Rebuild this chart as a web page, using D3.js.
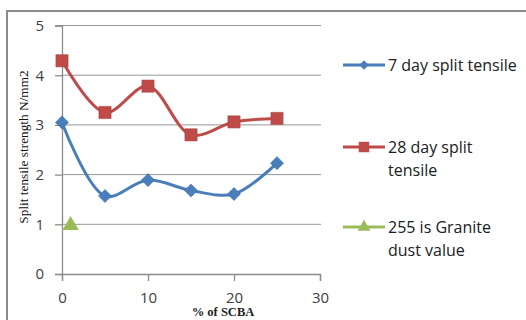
<!DOCTYPE html>
<html>
<head>
<meta charset="utf-8">
<script src="https://cdn.jsdelivr.net/npm/d3@7"></script>
<style>
  body { margin: 0; background: #fff; }
</style>
</head>
<body>
<div id="chart"></div>
<script>
var xValues = [0, 5, 10, 15, 20, 25];
var day7 = [3.05, 1.57, 1.89, 1.68, 1.61, 2.23];
var day28 = [4.29, 3.25, 3.78, 2.80, 3.06, 3.13];
var graniteX = [1];
var graniteY = [1.0];
var xTicks = [0, 10, 20, 30];
var yTicks = [0, 1, 2, 3, 4, 5];
var legendLabels = [["7 day split tensile"], ["28 day split", "tensile"], ["255 is Granite", "dust value"]];

var W = 526, H = 320;
var svg = d3.select("#chart").append("svg").attr("width", W).attr("height", H);

// outer chart frame
svg.append("rect").attr("x", 7).attr("y", 11).attr("width", 560).attr("height", 340)
  .attr("fill", "none").attr("stroke", "#8c8c8c").attr("stroke-width", 2);

var x = d3.scaleLinear().domain([0, 30]).range([62, 320]);
var y = d3.scaleLinear().domain([0, 5]).range([274, 25.5]);

// gridlines
svg.append("g").selectAll("line").data(yTicks.filter(function (d) { return d > 0; })).join("line")
  .attr("x1", 62).attr("x2", 321).attr("y1", function (d) { return y(d); }).attr("y2", function (d) { return y(d); })
  .attr("stroke", "#969696").attr("stroke-width", 1);

var yAxis = svg.append("g").attr("transform", "translate(62,0)")
  .call(d3.axisLeft(y).tickValues(yTicks).tickSize(7).tickFormat(d3.format("d")));
var xAxis = svg.append("g").attr("transform", "translate(0,274)")
  .call(d3.axisBottom(x).tickValues(xTicks).tickSize(7).tickFormat(d3.format("d")));
[yAxis, xAxis].forEach(function (a) {
  a.select(".domain").attr("stroke", "#8c8c8c").attr("stroke-width", 1.3);
  a.selectAll(".tick line").attr("stroke", "#8c8c8c").attr("stroke-width", 1.3);
  a.selectAll(".tick text").attr("fill", "#404040").style("font-family", "'Open Sans', sans-serif").style("font-size", "15px");
});
yAxis.selectAll(".tick text").attr("x", -18);
xAxis.selectAll(".tick text").attr("y", 18);

svg.append("text").attr("x", 223).attr("y", 316).attr("text-anchor", "middle")
  .style("font-family", "'Liberation Serif', serif").style("font-size", "12.5px").style("font-weight", "bold")
  .attr("fill", "#222").text("% of SCBA");

svg.append("text").attr("transform", "translate(28,147) rotate(-90)").attr("text-anchor", "middle")
  .style("font-family", "'Liberation Serif', serif").style("font-size", "13.3px")
  .attr("fill", "#111").text("Split tensile strength N/mm2");

var line = d3.line().x(function (d) { return x(d[0]); }).y(function (d) { return y(d[1]); }).curve(d3.curveCatmullRom.alpha(0.5));

var blue = "#4a7ebb", red = "#be4b48", green = "#9bbb59";
var s7 = xValues.map(function (v, i) { return [v, day7[i]]; });
var s28 = xValues.map(function (v, i) { return [v, day28[i]]; });

svg.append("path").datum(s7).attr("d", line).attr("fill", "none").attr("stroke", blue).attr("stroke-width", 3);
svg.append("path").datum(s28).attr("d", line).attr("fill", "none").attr("stroke", red).attr("stroke-width", 3);

var diamond = d3.symbol().type(d3.symbolDiamond2).size(110);
var square = d3.symbol().type(d3.symbolSquare).size(150);
var triangle = d3.symbol().type(d3.symbolTriangle).size(115);

svg.append("g").selectAll("path").data(s7).join("path")
  .attr("transform", function (d) { return "translate(" + x(d[0]) + "," + y(d[1]) + ")"; })
  .attr("d", diamond).attr("fill", blue).attr("stroke", "#3a6ea5").attr("stroke-width", 0.5);
svg.append("g").selectAll("path").data(s28).join("path")
  .attr("transform", function (d) { return "translate(" + x(d[0]) + "," + y(d[1]) + ")"; })
  .attr("d", square).attr("fill", red).attr("stroke", "#a94442").attr("stroke-width", 0.5);
svg.append("g").selectAll("path").data(graniteX.map(function (v, i) { return [v, graniteY[i]]; })).join("path")
  .attr("transform", function (d) { return "translate(" + x(d[0]) + "," + (y(d[1]) + 1) + ")"; })
  .attr("d", triangle).attr("fill", green);

// legend
var legY = [65, 147, 227];
var legColors = [blue, red, green];
var legSyms = [d3.symbol().type(d3.symbolDiamond2).size(60), d3.symbol().type(d3.symbolSquare).size(110), d3.symbol().type(d3.symbolTriangle).size(70)];
legY.forEach(function (ly, i) {
  svg.append("line").attr("x1", 343).attr("x2", 385).attr("y1", ly).attr("y2", ly)
    .attr("stroke", legColors[i]).attr("stroke-width", 3);
  svg.append("path").attr("transform", "translate(364," + ly + ")").attr("d", legSyms[i]).attr("fill", legColors[i]);
  legendLabels[i].forEach(function (t, j) {
    svg.append("text").attr("x", 388).attr("y", ly + 5.5 + j * 23)
      .style("font-family", "'Open Sans', sans-serif").style("font-size", "16px")
      .attr("fill", "#202020").text(t);
  });
});
</script>
</body>
</html>
